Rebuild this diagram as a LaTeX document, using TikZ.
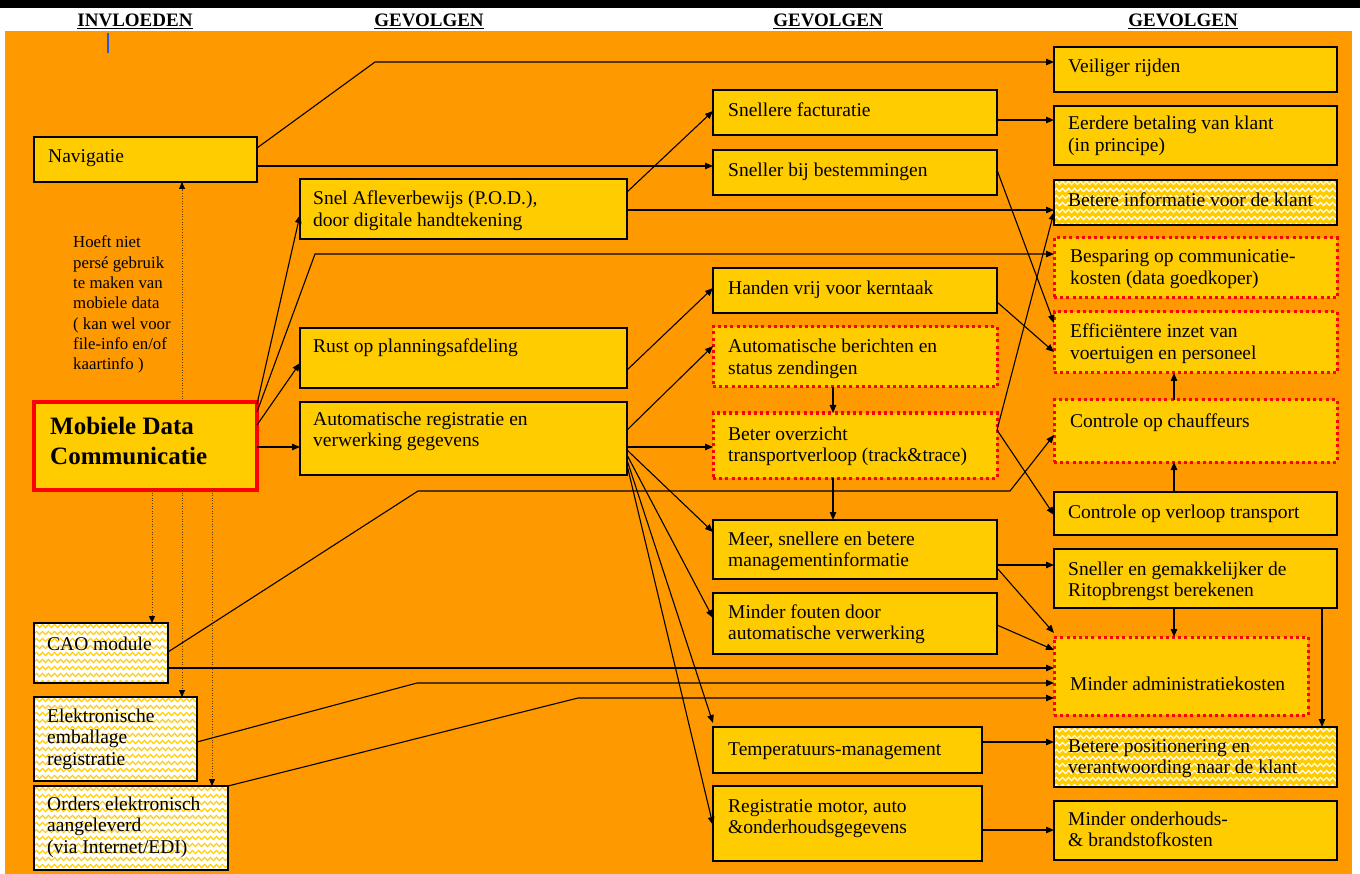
\documentclass[tikz,border=0pt]{standalone}
\usepackage{fontspec}
\setmainfont{Liberation Serif}
\usetikzlibrary{arrows.meta,calc,decorations.pathmorphing}
\definecolor{bgorange}{HTML}{FF9900}
\definecolor{boxyellow}{HTML}{FFCC00}
\definecolor{dotbrown}{HTML}{5A3C00}
\definecolor{tickblue}{HTML}{1E5AE6}

\tikzset{
  plainbox/.style={draw=black, line width=2.8pt, fill=boxyellow, inner sep=0pt, outer sep=0pt},
  redbox/.style={draw=red, line width=3pt, dash pattern=on 3pt off 3.2pt, fill=boxyellow, inner sep=0pt, outer sep=0pt},
  mdcbox/.style={draw=red, line width=4pt, fill=boxyellow, inner sep=0pt, outer sep=0pt},
  whitezz/.style={draw=black, line width=2.8pt, fill=white, inner sep=0pt, outer sep=0pt},
  yellowzz/.style={draw=black, line width=2.8pt, fill=boxyellow, inner sep=0pt, outer sep=0pt},
  txt/.style={anchor=base west, inner sep=0pt, font=\fontsize{19.5}{21.5}\selectfont},
  bigtxt/.style={anchor=base west, inner sep=0pt, font=\bfseries\fontsize{25}{30}\selectfont},
  notetxt/.style={anchor=base west, inner sep=0pt, font=\fontsize{16.8}{20.3}\selectfont},
  head/.style={anchor=base, inner sep=0pt, font=\bfseries\fontsize{19}{21}\selectfont},
  arr/.style={draw=black, line width=1.1pt, -{Triangle[length=8pt,width=6.5pt]}},
  darr/.style={draw=dotbrown, line width=0.9pt, dash pattern=on 1pt off 1.6pt, -{Triangle[length=7pt,width=6pt,color=black]}},
  zzline/.style={line width=1.1pt, decorate, decoration={zigzag, segment length=6pt, amplitude=1.6pt}}
}

% name, style, x1, y1, x2, y2
\newcommand\bx[6]{%
  \node[#2, anchor=north west, minimum width=#5pt-#3pt, minimum height=#6pt-#4pt] (#1) at (#3,#4) {};}
% name, dx, dy (baseline), text, style
\newcommand\bt[5][txt]{%
  \node[#1] (#2-t) at ($(#2.north west)+(#3,#4)$) {\begin{tabular}[t]{@{}l@{}}#5\end{tabular}};}
% zigzag fill: name, colour
\newcommand\zz[2]{%
  \begin{scope}
    \clip (#1.north west) rectangle (#1.south east);
    \foreach \k in {0,...,13}
      \draw[zzline, #2] ($(#1.north west)+(-5,3+7*\k)$) -- ($(#1.north east)+(5,3+7*\k)$);
  \end{scope}
  \draw[line width=2.8pt] (#1.north west) rectangle (#1.south east);}

\begin{document}
\begin{tikzpicture}[x=1pt,y=-1pt]
\useasboundingbox (0,0) rectangle (1360,874);
\fill[white] (0,0) rectangle (1360,874);
\fill[black] (0,0) rectangle (1360,8);
\fill[bgorange] (5,31) rectangle (1352,874);
\draw[tickblue, line width=2pt] (108,33) -- (108,53);

% headings
\node[head] (h1) at (135,26.5) {\underline{INVLOEDEN}};
\node[head] (h2) at (429,26.5) {\underline{GEVOLGEN}};
\node[head] (h3) at (828,26.5) {\underline{GEVOLGEN}};
\node[head] (h4) at (1183,26.5) {\underline{GEVOLGEN}};

% left column
\bx{nav}{plainbox}{34}{137}{257}{182}
\bt{nav}{14}{26}{Navigatie}
\bx{mdc}{mdcbox}{34}{402}{257}{490}
\bt[bigtxt]{mdc}{16}{33}{Mobiele Data\\Communicatie}
\bx{cao}{whitezz}{34}{623}{168}{683}
\zz{cao}{boxyellow}
\bt{cao}{13}{27}{CAO module}
\bx{emb}{whitezz}{34}{697}{197}{781}
\zz{emb}{boxyellow}
\bt{emb}{13}{25}{Elektronische\\emballage\\registratie}
\bx{ord}{whitezz}{34}{786}{228}{870}
\zz{ord}{boxyellow}
\bt{ord}{13}{24}{Orders elektronisch\\aangeleverd\\(via Internet/EDI)}

\node[notetxt] (note) at (73,248) {\begin{tabular}[t]{@{}l@{}}Hoeft niet\\persé gebruik\\te maken van\\mobiele data\\( kan wel voor\\file-info en/of\\kaartinfo )\end{tabular}};

% second column
\bx{pod}{plainbox}{300}{179}{627}{239}
\bt{pod}{13}{26}{Snel Afleverbewijs (P.O.D.),\\door digitale handtekening}
\bx{rust}{plainbox}{300}{328}{627}{388}
\bt{rust}{13}{25}{Rust op planningsafdeling}
\bx{areg}{plainbox}{300}{402}{627}{475}
\bt{areg}{13}{23}{Automatische registratie en\\verwerking gegevens}

% third column
\bx{fact}{plainbox}{713}{90}{997}{135}
\bt{fact}{15}{27}{Snellere facturatie}
\bx{best}{plainbox}{713}{150}{997}{195}
\bt{best}{15}{27}{Sneller bij bestemmingen}
\bx{hand}{plainbox}{713}{268}{997}{313}
\bt{hand}{15}{27}{Handen vrij voor kerntaak}
\bx{aber}{redbox}{713}{327}{997}{387}
\bt{aber}{15}{26}{Automatische berichten en\\status zendingen}
\bx{over}{redbox}{713}{413}{997}{478}
\bt{over}{15}{27}{Beter overzicht\\transportverloop (track\&trace)}
\bx{meer}{plainbox}{713}{520}{997}{579}
\bt{meer}{15}{25}{Meer, snellere en betere\\managementinformatie}
\bx{fout}{plainbox}{713}{593}{997}{654}
\bt{fout}{15}{25}{Minder fouten door\\automatische verwerking}
\bx{temp}{plainbox}{713}{727}{982}{773}
\bt{temp}{15}{28}{Temperatuurs-management}
\bx{rmot}{plainbox}{713}{786}{982}{861}
\bt{rmot}{15}{26}{Registratie motor, auto\\\&onderhoudsgegevens}

% right column
\bx{veil}{plainbox}{1054}{47}{1337}{92}
\bt{veil}{14}{26}{Veiliger rijden}
\bx{eerd}{plainbox}{1054}{106}{1337}{165}
\bt{eerd}{14}{24}{Eerdere betaling van klant\\(in principe)}
\bx{binf}{yellowzz}{1054}{180}{1337}{225}
\zz{binf}{white}
\bt{binf}{14}{27}{Betere informatie voor de klant}
\bx{besp}{redbox}{1054}{238}{1337}{298}
\bt{besp}{16}{25}{Besparing op communicatie-\\kosten (data goedkoper)}
\bx{effi}{redbox}{1054}{312}{1337}{373}
\bt{effi}{16}{26}{Efficiëntere inzet van\\voertuigen en personeel}
\bx{cchf}{redbox}{1054}{400}{1337}{462}
\bt{cchf}{16}{28}{Controle op chauffeurs}
\bx{cver}{plainbox}{1054}{492}{1337}{535}
\bt{cver}{14}{26}{Controle op verloop transport}
\bx{ritb}{plainbox}{1054}{549}{1337}{608}
\bt{ritb}{14}{26}{Sneller en gemakkelijker de\\Ritopbrengst berekenen}
\bx{madm}{redbox}{1054}{637}{1308}{715}
\bt{madm}{16}{53}{Minder administratiekosten}
\bx{bpos}{yellowzz}{1054}{727}{1337}{787}
\zz{bpos}{white}
\bt{bpos}{14}{25}{Betere positionering en\\verantwoording naar de klant}
\bx{mond}{plainbox}{1054}{801}{1337}{860}
\bt{mond}{14}{24}{Minder onderhouds-\\\& brandstofkosten}

% connectors
\draw[arr] ($(nav.north east)+(0,11)$) -- (375,62) -- ($(veil.north west)+(0,15)$);
\draw[arr] ($(nav.north east)+(0,29)$) -- ($(best.north west)+(0,16)$);
\draw[arr] ($(mdc.north east)+(0,2)$) -- ($(pod.north west)+(0,36)$);
\draw[arr] ($(mdc.north east)+(0,10)$) -- (315,254) -- ($(besp.north west)+(0,16)$);
\draw[arr] ($(mdc.north east)+(0,23)$) -- ($(rust.north west)+(0,35)$);
\draw[arr] ($(mdc.north east)+(0,45)$) -- ($(areg.north west)+(0,45)$);

\draw[darr] ($(mdc.north west)+(148,0)$) -- ($(nav.south west)+(148,0)$);
\draw[darr] ($(mdc.south west)+(118,0)$) -- ($(cao.north west)+(118,0)$);
\draw[darr] ($(mdc.south west)+(148,0)$) -- ($(emb.north west)+(148,0)$);
\draw[darr] ($(mdc.south west)+(178,0)$) -- ($(ord.north west)+(178,0)$);

\draw[arr] ($(pod.north east)+(0,13)$) -- ($(fact.north west)+(0,21)$);
\draw[arr] ($(pod.north east)+(0,31)$) -- ($(binf.north west)+(0,30)$);
\draw[arr] ($(fact.north east)+(0,30)$) -- ($(eerd.north west)+(0,14)$);
\draw[arr] ($(best.north east)+(0,20)$) -- ($(effi.north west)+(0,11)$);
\draw[arr] ($(hand.north east)+(0,34)$) -- ($(effi.north west)+(0,40)$);
\draw[arr] ($(rust.north east)+(0,42)$) -- ($(hand.north west)+(0,20)$);
\draw[arr] ($(areg.north east)+(0,28)$) -- ($(aber.north west)+(0,19)$);
\draw[arr] ($(areg.north east)+(0,45)$) -- ($(over.north west)+(0,34)$);
\draw[arr] ($(aber.south west)+(120,0)$) -- ($(over.north west)+(120,0)$);
\draw[arr] ($(over.south west)+(120,0)$) -- ($(meer.north west)+(120,0)$);
\draw[arr] ($(over.north east)+(0,17)$) -- ($(binf.south west)+(0,-13)$);
\draw[arr] ($(over.north east)+(0,17)$) -- ($(cver.north west)+(0,23)$);

\draw[arr] ($(cao.north east)+(0,29)$) -- (418,491) -- (1010,491) -- ($(cchf.north west)+(0,35)$);
\draw[arr] ($(cao.north east)+(0,45)$) -- ($(madm.north west)+(0,31)$);
\draw[arr] ($(emb.north east)+(0,45)$) -- (417,683) -- ($(madm.north west)+(0,46)$);
\draw[arr] (ord.north east) -- (578,698) -- ($(madm.north west)+(0,61)$);

\draw[arr] ($(areg.north east)+(0,48)$) -- ($(meer.north west)+(0,12)$);
\draw[arr] ($(areg.north east)+(0,53)$) -- ($(fout.north west)+(0,25)$);
\draw[arr] ($(areg.north east)+(0,58)$) -- ($(temp.north west)+(0,-4)$);
\draw[arr] ($(areg.north east)+(0,63)$) -- ($(rmot.north west)+(0,39)$);

\draw[arr] ($(meer.north east)+(0,45)$) -- ($(ritb.north west)+(0,16)$);
\draw[arr] ($(meer.north east)+(0,48)$) -- ($(madm.north west)+(0,-4)$);
\draw[arr] ($(fout.north east)+(0,32)$) -- ($(madm.north west)+(0,13)$);
\draw[arr] ($(ritb.south west)+(120,0)$) -- ($(madm.north west)+(120,0)$);
\draw[arr] ($(ritb.south west)+(268,0)$) -- ($(bpos.north west)+(268,0)$);
\draw[arr] ($(cver.north west)+(120,0)$) -- ($(cchf.south west)+(120,0)$);
\draw[arr] ($(cchf.north west)+(120,0)$) -- ($(effi.south west)+(120,0)$);
\draw[arr] ($(temp.north east)+(0,15)$) -- ($(bpos.north west)+(0,15)$);
\draw[arr] ($(rmot.north east)+(0,44)$) -- ($(mond.north west)+(0,29)$);
\end{tikzpicture}
\end{document}
